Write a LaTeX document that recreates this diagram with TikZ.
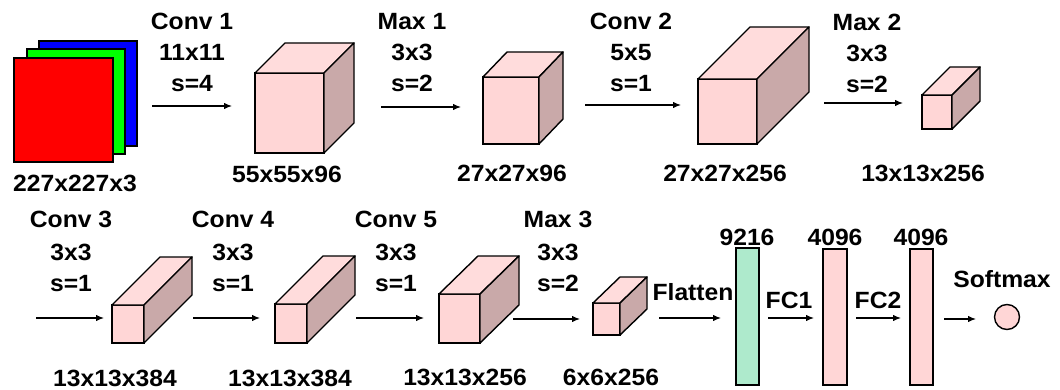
\documentclass[tikz,border=0pt]{standalone}
\usepackage{fontspec}
\setmainfont{Liberation Sans}[FakeStretch=1.05]
\usetikzlibrary{arrows.meta}
\definecolor{frontpink}{HTML}{FFD6D6}
\definecolor{toppink}{HTML}{FFDCDC}
\definecolor{sidepink}{HTML}{C9A9A9}
\definecolor{mint}{HTML}{AEEACC}
\tikzset{
  lbl/.style={font=\fontsize{23.5}{30}\selectfont\bfseries, inner sep=0pt, anchor=base},
  face/.style={draw=black, line width=1.4pt, fill=frontpink, inner sep=0pt, outer sep=0pt, anchor=north west},
  topf/.style={draw=black, line width=1.4pt, fill=toppink, line join=round},
  sidef/.style={draw=black, line width=1.4pt, fill=sidepink, line join=round},
  plane/.style={draw=black, line width=1.6pt, inner sep=0pt, outer sep=0pt, anchor=north west},
  bar/.style={draw=black, line width=1.4pt, inner sep=0pt, outer sep=0pt, anchor=north west},
  flow/.style={line width=1.2pt, -{Latex[length=8pt,width=6.5pt]}}
}
% cube: name, x, y (front top-left), w, h, dx, dy
\newcommand\mycube[7]{%
  \node[face, minimum width=#4pt, minimum height=#5pt] (#1) at (#2,#3) {};
  \draw[topf] (#1.north west) -- ++(#6,#7) -- ++(#4,0) -- (#1.north east) -- cycle;
  \draw[sidef] (#1.north east) -- ++(#6,#7) -- ++(0,#5) -- (#1.south east) -- cycle;
}
\begin{document}
\begin{tikzpicture}[x=1pt,y=-1pt]
\useasboundingbox (0,0) rectangle (1060,390);
% input planes
\node[plane, fill=blue, minimum width=98pt, minimum height=105pt] (pb) at (39,41) {};
\node[plane, fill=green, minimum width=98pt, minimum height=105pt] (pg) at (27,49) {};
\node[plane, fill=red, minimum width=99pt, minimum height=104pt] (pr) at (14,58) {};
\node[lbl] (d0) at (75,192) {227x227x3};
% top row cubes
\mycube{c1}{255}{73}{69}{80}{30}{-30}
\mycube{c2}{483}{77}{56}{67}{24}{-25}
\mycube{c3}{698}{79}{59}{65}{52}{-52}
\mycube{c4}{922}{95}{30}{34}{28}{-28}
\node[lbl] (d1) at (287,183) {55x55x96};
\node[lbl] (d2) at (512,182) {27x27x96};
\node[lbl] (d3) at (725,182) {27x27x256};
\node[lbl] (d4) at (923,182) {13x13x256};
% top row operation labels
\node[lbl] (l1a) at (192,30) {Conv 1};
\node[lbl] (l1b) at (192,60.5) {11x11};
\node[lbl] (l1c) at (192,91.5) {s=4};
\node[lbl] (l2a) at (412,30) {Max 1};
\node[lbl] (l2b) at (412,61) {3x3};
\node[lbl] (l2c) at (412,92) {s=2};
\node[lbl] (l3a) at (631,30) {Conv 2};
\node[lbl] (l3b) at (631,61) {5x5};
\node[lbl] (l3c) at (631,92) {s=1};
\node[lbl] (l4a) at (867,31) {Max 2};
\node[lbl] (l4b) at (867,62) {3x3};
\node[lbl] (l4c) at (867,93) {s=2};
% top row arrows
\coordinate (a1s) at (152,106); \coordinate (a1e) at (232,106);
\coordinate (a2s) at (381,107); \coordinate (a2e) at (461,107);
\coordinate (a3s) at (585,105); \coordinate (a3e) at (681,105);
\coordinate (a4s) at (824,103); \coordinate (a4e) at (903,103);
\draw[flow] (a1s) -- (a1e);
\draw[flow] (a2s) -- (a2e);
\draw[flow] (a3s) -- (a3e);
\draw[flow] (a4s) -- (a4e);
% bottom row cubes
\mycube{c5}{112}{305}{32}{38}{48}{-48}
\mycube{c6}{275}{304}{32}{39}{48}{-48}
\mycube{c7}{439}{294}{41}{49}{39}{-38}
\mycube{c8}{593}{303}{27}{32}{27}{-26}
\node[lbl] (d5) at (115,386) {13x13x384};
\node[lbl] (d6) at (290,386) {13x13x384};
\node[lbl] (d7) at (465,385) {13x13x256};
\node[lbl] (d8) at (611,385) {6x6x256};
% bottom labels
\node[lbl] (l5a) at (71,228) {Conv 3};
\node[lbl] (l5b) at (71,260) {3x3};
\node[lbl] (l5c) at (71,291) {s=1};
\node[lbl] (l6a) at (233,228) {Conv 4};
\node[lbl] (l6b) at (233,260) {3x3};
\node[lbl] (l6c) at (233,291) {s=1};
\node[lbl] (l7a) at (396,228) {Conv 5};
\node[lbl] (l7b) at (396,260) {3x3};
\node[lbl] (l7c) at (396,291) {s=1};
\node[lbl] (l8a) at (558,228) {Max 3};
\node[lbl] (l8b) at (558,260) {3x3};
\node[lbl] (l8c) at (558,291) {s=2};
\node[lbl] (fl) at (693,300) {Flatten};
\node[lbl] (fc1) at (789,308) {FC1};
\node[lbl] (fc2) at (878,308) {FC2};
\node[lbl] (sm) at (1002,287) {Softmax};
% fully connected bars
\node[bar, fill=mint, minimum width=23pt, minimum height=137pt] (b1) at (736,248) {};
\node[bar, fill=frontpink, minimum width=24pt, minimum height=136pt] (b2) at (823,249) {};
\node[bar, fill=frontpink, minimum width=23pt, minimum height=136pt] (b3) at (910,249) {};
\node[lbl] (n1) at (747,245) {9216};
\node[lbl] (n2) at (835,245) {4096};
\node[lbl] (n3) at (921,245) {4096};
\node[circle, draw=black, line width=1.4pt, fill=frontpink, minimum size=25pt, inner sep=0pt] (out) at (1007,317) {};
% bottom arrows
\coordinate (a5s) at (36,318); \coordinate (a5e) at (104,318);
\coordinate (a6s) at (193,318); \coordinate (a6e) at (260,318);
\coordinate (a7s) at (356,318); \coordinate (a7e) at (424,318);
\coordinate (a8s) at (513,319); \coordinate (a8e) at (580,319);
\coordinate (a9s) at (659,318); \coordinate (a9e) at (721,318);
\coordinate (a10s) at (768,318); \coordinate (a10e) at (814,318);
\coordinate (a11s) at (856,318); \coordinate (a11e) at (901,318);
\coordinate (a12s) at (944,319); \coordinate (a12e) at (976,319);
\draw[flow] (a5s) -- (a5e);
\draw[flow] (a6s) -- (a6e);
\draw[flow] (a7s) -- (a7e);
\draw[flow] (a8s) -- (a8e);
\draw[flow] (a9s) -- (a9e);
\draw[flow] (a10s) -- (a10e);
\draw[flow] (a11s) -- (a11e);
\draw[flow] (a12s) -- (a12e);
\end{tikzpicture}
\end{document}
